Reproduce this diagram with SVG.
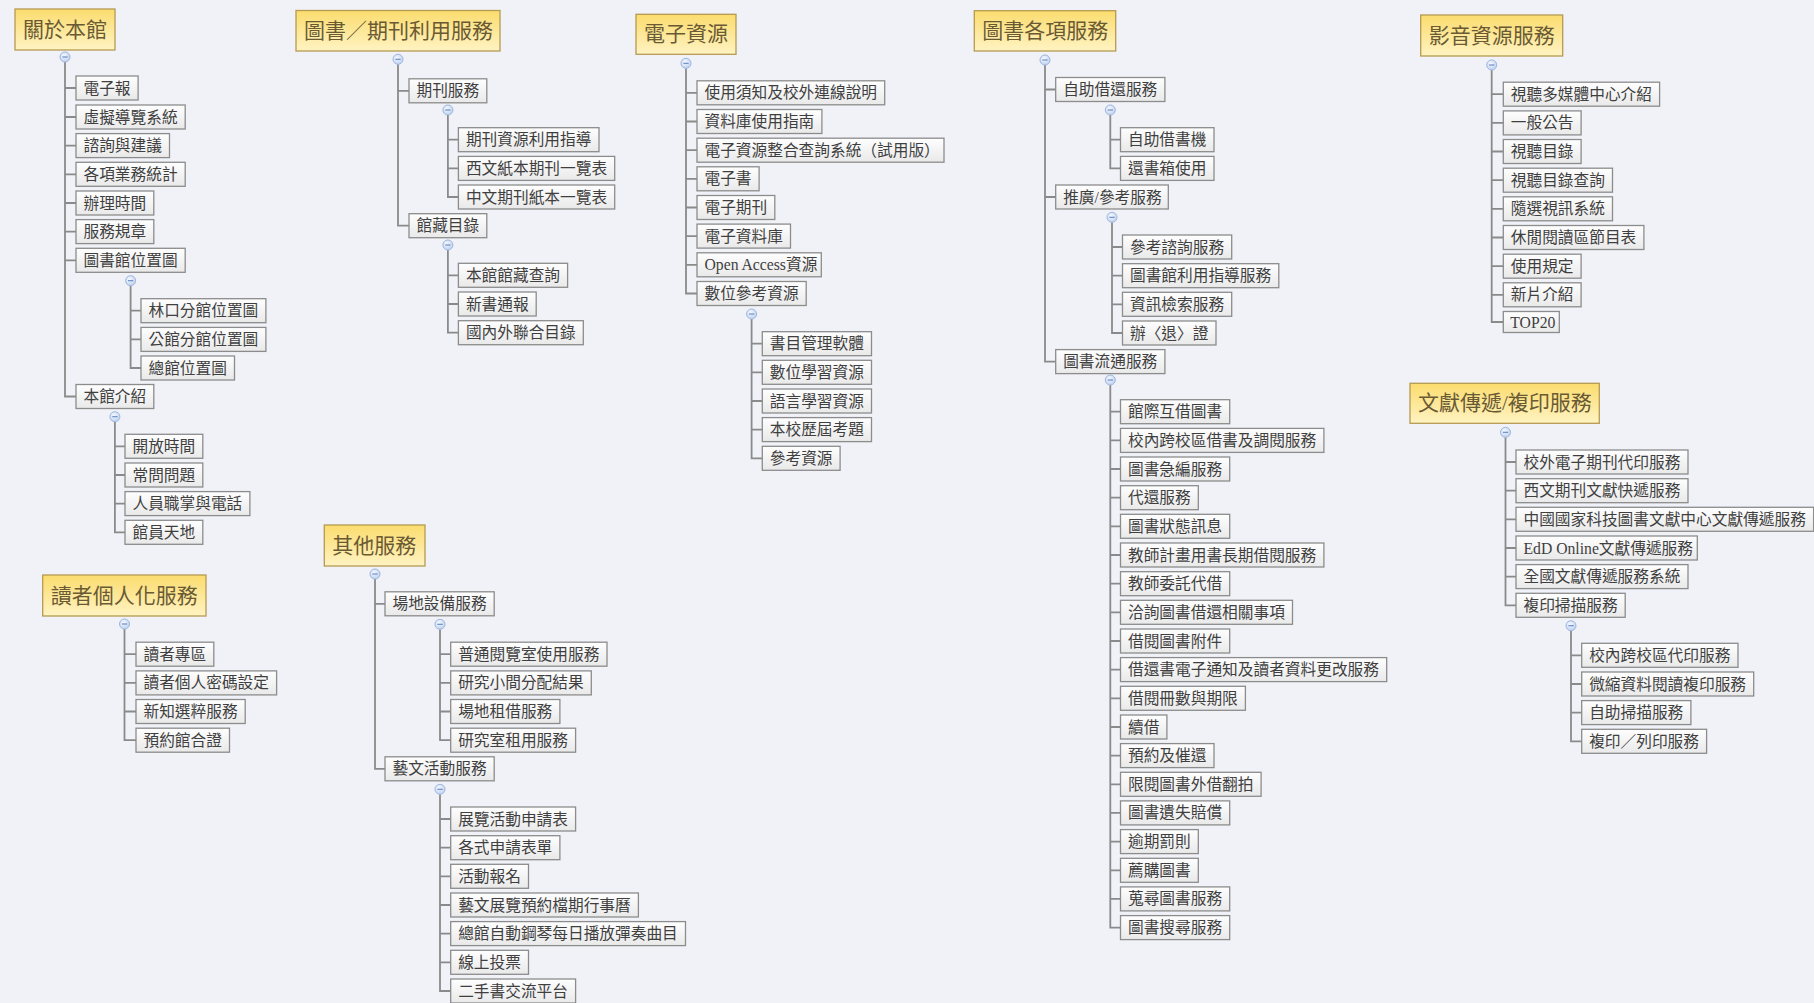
<svg xmlns="http://www.w3.org/2000/svg" width="1814" height="1003" viewBox="0 0 1814 1003">
<defs>
<linearGradient id="gRoot" x1="0" y1="0" x2="0" y2="1"><stop offset="0" stop-color="#fbdc6e"/><stop offset="1" stop-color="#fff3c2"/></linearGradient>
<linearGradient id="gBox" x1="0" y1="0" x2="0" y2="1"><stop offset="0" stop-color="#fefefe"/><stop offset="1" stop-color="#e9e9ea"/></linearGradient>
<radialGradient id="gTog" cx="0.4" cy="0.35" r="0.7"><stop offset="0" stop-color="#f4f8ff"/><stop offset="1" stop-color="#bcd0ef"/></radialGradient>
<g id="tog"><circle r="5" fill="url(#gTog)" stroke="#9db6de" stroke-width="1"/><line x1="-2.6" y1="0" x2="2.6" y2="0" stroke="#6685bd" stroke-width="1.1"/></g>
</defs>
<style>
.r{fill:url(#gRoot);stroke:#b59a52;stroke-width:1.3}
.b{fill:url(#gBox);stroke:#8c8c8c;stroke-width:1.3}
.rt{font-family:"Liberation Serif","Noto Sans CJK TC",serif;font-size:21px;fill:#6a5a34;dominant-baseline:central}
.t{font-family:"Liberation Serif","Noto Sans CJK TC",serif;font-size:15.7px;fill:#3f3f3f;dominant-baseline:central}
.c{fill:none;stroke:#8a8a8a;stroke-width:1.8}
</style>
<rect x="0" y="0" width="1814" height="1003" fill="#f0f2f7"/>

<g id="connectors" class="c">
<path d="M65,62V396.5H76M65,88H76M65,117H76M65,145.6H76M65,174.3H76M65,203H76M65,231.6H76M65,260.3H76"/>
<path d="M130.6,285.7V368H141M130.6,310.7H141M130.6,339.4H141"/>
<path d="M114.9,421.7V532.3H125M114.9,446.3H125M114.9,475H125M114.9,503.6H125"/>
<path d="M398,64.3V225.7H409M398,90.8H409"/>
<path d="M447.9,115V197H458.4M447.9,139.7H458.4M447.9,168.4H458.4"/>
<path d="M447.9,250V332.7H458.4M447.9,275.3H458.4M447.9,304H458.4"/>
<path d="M686,68.3V293.5H697M686,92.8H697M686,121.5H697M686,150.2H697M686,178.8H697M686,207.5H697M686,236.1H697M686,264.8H697"/>
<path d="M751.6,319V458.3H762.3M751.6,343.7H762.3M751.6,372.3H762.3M751.6,401H762.3M751.6,429.6H762.3"/>
<path d="M1045,65V361.6H1055.7M1045,89.5H1055.7M1045,197H1055.7"/>
<path d="M1110.3,115V168.4H1120.5M1110.3,139.7H1120.5"/>
<path d="M1112,222.3V333H1122.5M1112,247H1122.5M1112,275.7H1122.5M1112,304.3H1122.5"/>
<path d="M1110.3,385V927.6H1120.5M1110.3,411.7H1120.5M1110.3,440.4H1120.5M1110.3,469H1120.5M1110.3,497.7H1120.5M1110.3,526.3H1120.5M1110.3,555H1120.5M1110.3,583.7H1120.5M1110.3,612.3H1120.5M1110.3,641H1120.5M1110.3,669.6H1120.5M1110.3,698.3H1120.5M1110.3,727H1120.5M1110.3,755.6H1120.5M1110.3,784.3H1120.5M1110.3,812.9H1120.5M1110.3,841.6H1120.5M1110.3,870.3H1120.5M1110.3,898.9H1120.5"/>
<path d="M1491.7,70V322H1503.3M1491.7,94.2H1503.3M1491.7,122.9H1503.3M1491.7,151.5H1503.3M1491.7,180.2H1503.3M1491.7,208.8H1503.3M1491.7,237.5H1503.3M1491.7,266.2H1503.3M1491.7,294.8H1503.3"/>
<path d="M1505.5,437.3V605.3H1516M1505.5,462H1516M1505.5,490.7H1516M1505.5,519.3H1516M1505.5,548H1516M1505.5,576.6H1516"/>
<path d="M1571,630.7V741.3H1581.7M1571,655.3H1581.7M1571,684H1581.7M1571,712.6H1581.7"/>
<path d="M124.5,629V740.2H136M124.5,654.2H136M124.5,682.9H136M124.5,711.5H136"/>
<path d="M375,579V768.8H385M375,603.8H385"/>
<path d="M440,629.3V740.2H450.7M440,654.2H450.7M440,682.9H450.7M440,711.5H450.7"/>
<path d="M440,794.3V991H450.7M440,819H450.7M440,847.7H450.7M440,876.3H450.7M440,905H450.7M440,933.6H450.7M440,962.3H450.7"/>
</g>

<g id="toggles">
<use href="#tog" x="65" y="57"/><use href="#tog" x="130.6" y="280.7"/><use href="#tog" x="114.9" y="416.7"/>
<use href="#tog" x="398" y="59.3"/><use href="#tog" x="447.9" y="110"/><use href="#tog" x="447.9" y="245"/>
<use href="#tog" x="686" y="63.3"/><use href="#tog" x="751.6" y="314"/>
<use href="#tog" x="1045" y="60"/><use href="#tog" x="1110.3" y="110"/><use href="#tog" x="1112" y="217.3"/><use href="#tog" x="1110.3" y="380"/>
<use href="#tog" x="1491.7" y="65"/>
<use href="#tog" x="1505.5" y="432.3"/><use href="#tog" x="1571" y="625.7"/>
<use href="#tog" x="124.5" y="624"/>
<use href="#tog" x="375" y="574"/><use href="#tog" x="440" y="624.3"/><use href="#tog" x="440" y="789.3"/>
</g>

<!-- Tree 1 -->
<g id="root-about"><rect class="r" x="15" y="9" width="100" height="41"/><text class="rt" x="23" y="29.5">關於本館</text></g>
<g id="n-enews"><rect class="b" x="76" y="76" width="62.1" height="24"/><text class="t" x="83.5" y="88">電子報</text></g>
<g id="n-virtual"><rect class="b" x="76" y="105" width="109.2" height="24"/><text class="t" x="83.5" y="117">虛擬導覽系統</text></g>
<g id="n-consult"><rect class="b" x="76" y="133.6" width="93.5" height="24"/><text class="t" x="83.5" y="145.6">諮詢與建議</text></g>
<g id="n-stats"><rect class="b" x="76" y="162.3" width="109.2" height="24"/><text class="t" x="83.5" y="174.3">各項業務統計</text></g>
<g id="n-hours"><rect class="b" x="76" y="191" width="77.8" height="24"/><text class="t" x="83.5" y="203">辦理時間</text></g>
<g id="n-rules"><rect class="b" x="76" y="219.6" width="77.8" height="24"/><text class="t" x="83.5" y="231.6">服務規章</text></g>
<g id="n-location"><rect class="b" x="76" y="248.3" width="109.2" height="24"/><text class="t" x="83.5" y="260.3">圖書館位置圖</text></g>
<g id="n-linkou"><rect class="b" x="141" y="298.7" width="124.9" height="24"/><text class="t" x="148.5" y="310.7">林口分館位置圖</text></g>
<g id="n-gongguan"><rect class="b" x="141" y="327.4" width="124.9" height="24"/><text class="t" x="148.5" y="339.4">公館分館位置圖</text></g>
<g id="n-main"><rect class="b" x="141" y="356" width="93.5" height="24"/><text class="t" x="148.5" y="368">總館位置圖</text></g>
<g id="n-intro"><rect class="b" x="76" y="384.5" width="77.8" height="24"/><text class="t" x="83.5" y="396.5">本館介紹</text></g>
<g id="n-open"><rect class="b" x="125" y="434.3" width="77.8" height="24"/><text class="t" x="132.5" y="446.3">開放時間</text></g>
<g id="n-faq"><rect class="b" x="125" y="463" width="77.8" height="24"/><text class="t" x="132.5" y="475">常問問題</text></g>
<g id="n-staff"><rect class="b" x="125" y="491.6" width="124.9" height="24"/><text class="t" x="132.5" y="503.6">人員職掌與電話</text></g>
<g id="n-staffworld"><rect class="b" x="125" y="520.3" width="77.8" height="24"/><text class="t" x="132.5" y="532.3">館員天地</text></g>

<!-- Tree 2 -->
<g id="root-books"><rect class="r" x="296" y="10.5" width="204" height="40.5"/><text class="rt" x="304" y="30.75">圖書／期刊利用服務</text></g>
<g id="n-periodical"><rect class="b" x="409" y="78.8" width="77.8" height="24"/><text class="t" x="416.5" y="90.8">期刊服務</text></g>
<g id="n-per1"><rect class="b" x="458.4" y="127.7" width="140.6" height="24"/><text class="t" x="465.9" y="139.7">期刊資源利用指導</text></g>
<g id="n-per2"><rect class="b" x="458.4" y="156.4" width="156.3" height="24"/><text class="t" x="465.9" y="168.4">西文紙本期刊一覽表</text></g>
<g id="n-per3"><rect class="b" x="458.4" y="185" width="156.3" height="24"/><text class="t" x="465.9" y="197">中文期刊紙本一覽表</text></g>
<g id="n-catalog"><rect class="b" x="409" y="213.7" width="77.8" height="24"/><text class="t" x="416.5" y="225.7">館藏目錄</text></g>
<g id="n-cat1"><rect class="b" x="458.4" y="263.3" width="109.2" height="24"/><text class="t" x="465.9" y="275.3">本館館藏查詢</text></g>
<g id="n-cat2"><rect class="b" x="458.4" y="292" width="77.8" height="24"/><text class="t" x="465.9" y="304">新書通報</text></g>
<g id="n-cat3"><rect class="b" x="458.4" y="320.7" width="124.9" height="24"/><text class="t" x="465.9" y="332.7">國內外聯合目錄</text></g>

<!-- Tree 3 -->
<g id="root-eres"><rect class="r" x="636" y="14.3" width="100" height="40"/><text class="rt" x="644" y="34.3">電子資源</text></g>
<g id="n-e1"><rect class="b" x="697" y="80.8" width="187.7" height="24"/><text class="t" x="704.5" y="92.8">使用須知及校外連線說明</text></g>
<g id="n-e2"><rect class="b" x="697" y="109.5" width="124.9" height="24"/><text class="t" x="704.5" y="121.5">資料庫使用指南</text></g>
<g id="n-e3"><rect class="b" x="697" y="138.2" width="247" height="24"/><text class="t" x="704.5" y="150.2">電子資源整合查詢系統（試用版）</text></g>
<g id="n-e4"><rect class="b" x="697" y="166.8" width="62.1" height="24"/><text class="t" x="704.5" y="178.8">電子書</text></g>
<g id="n-e5"><rect class="b" x="697" y="195.5" width="77.8" height="24"/><text class="t" x="704.5" y="207.5">電子期刊</text></g>
<g id="n-e6"><rect class="b" x="697" y="224.1" width="93.5" height="24"/><text class="t" x="704.5" y="236.1">電子資料庫</text></g>
<g id="n-e7"><rect class="b" x="697" y="252.8" width="124.3" height="24"/><text class="t" x="704.5" y="264.8">Open Access資源</text></g>
<g id="n-e8"><rect class="b" x="697" y="281.5" width="109.2" height="24"/><text class="t" x="704.5" y="293.5">數位參考資源</text></g>
<g id="n-e81"><rect class="b" x="762.3" y="331.7" width="109.2" height="24"/><text class="t" x="769.8" y="343.7">書目管理軟體</text></g>
<g id="n-e82"><rect class="b" x="762.3" y="360.3" width="109.2" height="24"/><text class="t" x="769.8" y="372.3">數位學習資源</text></g>
<g id="n-e83"><rect class="b" x="762.3" y="389" width="109.2" height="24"/><text class="t" x="769.8" y="401">語言學習資源</text></g>
<g id="n-e84"><rect class="b" x="762.3" y="417.6" width="109.2" height="24"/><text class="t" x="769.8" y="429.6">本校歷屆考題</text></g>
<g id="n-e85"><rect class="b" x="762.3" y="446.3" width="77.8" height="24"/><text class="t" x="769.8" y="458.3">參考資源</text></g>

<!-- Tree 4 -->
<g id="root-services"><rect class="r" x="974.3" y="10.7" width="141.4" height="40.3"/><text class="rt" x="982.3" y="30.85">圖書各項服務</text></g>
<g id="n-self"><rect class="b" x="1055.7" y="77.5" width="109.2" height="24"/><text class="t" x="1063.2" y="89.5">自助借還服務</text></g>
<g id="n-self1"><rect class="b" x="1120.5" y="127.7" width="93.5" height="24"/><text class="t" x="1128" y="139.7">自助借書機</text></g>
<g id="n-self2"><rect class="b" x="1120.5" y="156.4" width="93.5" height="24"/><text class="t" x="1128" y="168.4">還書箱使用</text></g>
<g id="n-ref"><rect class="b" x="1055.7" y="185" width="112.6" height="24"/><text class="t" x="1063.2" y="197">推廣/參考服務</text></g>
<g id="n-ref1"><rect class="b" x="1122.5" y="235" width="109.2" height="24"/><text class="t" x="1130" y="247">參考諮詢服務</text></g>
<g id="n-ref2"><rect class="b" x="1122.5" y="263.7" width="156.3" height="24"/><text class="t" x="1130" y="275.7">圖書館利用指導服務</text></g>
<g id="n-ref3"><rect class="b" x="1122.5" y="292.3" width="109.2" height="24"/><text class="t" x="1130" y="304.3">資訊檢索服務</text></g>
<g id="n-ref4"><rect class="b" x="1122.5" y="321" width="93.5" height="24"/><text class="t" x="1130" y="333">辦〈退〉證</text></g>
<g id="n-circ"><rect class="b" x="1055.7" y="349.6" width="109.2" height="24"/><text class="t" x="1063.2" y="361.6">圖書流通服務</text></g>
<g id="n-c01"><rect class="b" x="1120.5" y="399.7" width="109.2" height="24"/><text class="t" x="1128" y="411.7">館際互借圖書</text></g>
<g id="n-c02"><rect class="b" x="1120.5" y="428.4" width="203.4" height="24"/><text class="t" x="1128" y="440.4">校內跨校區借書及調閱服務</text></g>
<g id="n-c03"><rect class="b" x="1120.5" y="457" width="109.2" height="24"/><text class="t" x="1128" y="469">圖書急編服務</text></g>
<g id="n-c04"><rect class="b" x="1120.5" y="485.7" width="77.8" height="24"/><text class="t" x="1128" y="497.7">代還服務</text></g>
<g id="n-c05"><rect class="b" x="1120.5" y="514.3" width="109.2" height="24"/><text class="t" x="1128" y="526.3">圖書狀態訊息</text></g>
<g id="n-c06"><rect class="b" x="1120.5" y="543" width="203.4" height="24"/><text class="t" x="1128" y="555">教師計畫用書長期借閱服務</text></g>
<g id="n-c07"><rect class="b" x="1120.5" y="571.7" width="109.2" height="24"/><text class="t" x="1128" y="583.7">教師委託代借</text></g>
<g id="n-c08"><rect class="b" x="1120.5" y="600.3" width="172" height="24"/><text class="t" x="1128" y="612.3">洽詢圖書借還相關事項</text></g>
<g id="n-c09"><rect class="b" x="1120.5" y="629" width="109.2" height="24"/><text class="t" x="1128" y="641">借閱圖書附件</text></g>
<g id="n-c10"><rect class="b" x="1120.5" y="657.6" width="266.2" height="24"/><text class="t" x="1128" y="669.6">借還書電子通知及讀者資料更改服務</text></g>
<g id="n-c11"><rect class="b" x="1120.5" y="686.3" width="124.9" height="24"/><text class="t" x="1128" y="698.3">借閱冊數與期限</text></g>
<g id="n-c12"><rect class="b" x="1120.5" y="715" width="46.4" height="24"/><text class="t" x="1128" y="727">續借</text></g>
<g id="n-c13"><rect class="b" x="1120.5" y="743.6" width="93.5" height="24"/><text class="t" x="1128" y="755.6">預約及催還</text></g>
<g id="n-c14"><rect class="b" x="1120.5" y="772.3" width="140.6" height="24"/><text class="t" x="1128" y="784.3">限閱圖書外借翻拍</text></g>
<g id="n-c15"><rect class="b" x="1120.5" y="800.9" width="109.2" height="24"/><text class="t" x="1128" y="812.9">圖書遺失賠償</text></g>
<g id="n-c16"><rect class="b" x="1120.5" y="829.6" width="77.8" height="24"/><text class="t" x="1128" y="841.6">逾期罰則</text></g>
<g id="n-c17"><rect class="b" x="1120.5" y="858.3" width="77.8" height="24"/><text class="t" x="1128" y="870.3">薦購圖書</text></g>
<g id="n-c18"><rect class="b" x="1120.5" y="886.9" width="109.2" height="24"/><text class="t" x="1128" y="898.9">蒐尋圖書服務</text></g>
<g id="n-c19"><rect class="b" x="1120.5" y="915.6" width="109.2" height="24"/><text class="t" x="1128" y="927.6">圖書搜尋服務</text></g>

<!-- Tree 5 -->
<g id="root-av"><rect class="r" x="1420.7" y="15" width="142" height="41"/><text class="rt" x="1428.7" y="35.5">影音資源服務</text></g>
<g id="n-av1"><rect class="b" x="1503.3" y="82.2" width="156.3" height="24"/><text class="t" x="1510.8" y="94.2">視聽多媒體中心介紹</text></g>
<g id="n-av2"><rect class="b" x="1503.3" y="110.9" width="77.8" height="24"/><text class="t" x="1510.8" y="122.9">一般公告</text></g>
<g id="n-av3"><rect class="b" x="1503.3" y="139.5" width="77.8" height="24"/><text class="t" x="1510.8" y="151.5">視聽目錄</text></g>
<g id="n-av4"><rect class="b" x="1503.3" y="168.2" width="109.2" height="24"/><text class="t" x="1510.8" y="180.2">視聽目錄查詢</text></g>
<g id="n-av5"><rect class="b" x="1503.3" y="196.8" width="109.2" height="24"/><text class="t" x="1510.8" y="208.8">隨選視訊系統</text></g>
<g id="n-av6"><rect class="b" x="1503.3" y="225.5" width="140.6" height="24"/><text class="t" x="1510.8" y="237.5">休閒閱讀區節目表</text></g>
<g id="n-av7"><rect class="b" x="1503.3" y="254.2" width="77.8" height="24"/><text class="t" x="1510.8" y="266.2">使用規定</text></g>
<g id="n-av8"><rect class="b" x="1503.3" y="282.8" width="77.8" height="24"/><text class="t" x="1510.8" y="294.8">新片介紹</text></g>
<g id="n-av9"><rect class="b" x="1503.3" y="311.5" width="56" height="21"/><text class="t" x="1510.3" y="322">TOP20</text></g>

<!-- Tree 6 -->
<g id="root-docdel"><rect class="r" x="1410" y="383.3" width="189.3" height="40"/><text class="rt" x="1418" y="403.3">文獻傳遞/複印服務</text></g>
<g id="n-d1"><rect class="b" x="1516" y="450" width="172" height="24"/><text class="t" x="1523.5" y="462">校外電子期刊代印服務</text></g>
<g id="n-d2"><rect class="b" x="1516" y="478.7" width="172" height="24"/><text class="t" x="1523.5" y="490.7">西文期刊文獻快遞服務</text></g>
<g id="n-d3"><rect class="b" x="1516" y="507.3" width="297.6" height="24"/><text class="t" x="1523.5" y="519.3">中國國家科技圖書文獻中心文獻傳遞服務</text></g>
<g id="n-d4"><rect class="b" x="1516" y="536" width="181.3" height="24"/><text class="t" x="1523.5" y="548">EdD Online文獻傳遞服務</text></g>
<g id="n-d5"><rect class="b" x="1516" y="564.6" width="172" height="24"/><text class="t" x="1523.5" y="576.6">全國文獻傳遞服務系統</text></g>
<g id="n-d6"><rect class="b" x="1516" y="593.3" width="109.2" height="24"/><text class="t" x="1523.5" y="605.3">複印掃描服務</text></g>
<g id="n-d61"><rect class="b" x="1581.7" y="643.3" width="156.3" height="24"/><text class="t" x="1589.2" y="655.3">校內跨校區代印服務</text></g>
<g id="n-d62"><rect class="b" x="1581.7" y="672" width="172" height="24"/><text class="t" x="1589.2" y="684">微縮資料閱讀複印服務</text></g>
<g id="n-d63"><rect class="b" x="1581.7" y="700.6" width="109.2" height="24"/><text class="t" x="1589.2" y="712.6">自助掃描服務</text></g>
<g id="n-d64"><rect class="b" x="1581.7" y="729.3" width="124.9" height="24"/><text class="t" x="1589.2" y="741.3">複印／列印服務</text></g>

<!-- Tree 7 -->
<g id="root-personal"><rect class="r" x="42.7" y="575" width="163.3" height="41"/><text class="rt" x="50.7" y="595.5">讀者個人化服務</text></g>
<g id="n-p1"><rect class="b" x="136" y="642.2" width="77.8" height="24"/><text class="t" x="143.5" y="654.2">讀者專區</text></g>
<g id="n-p2"><rect class="b" x="136" y="670.9" width="140.6" height="24"/><text class="t" x="143.5" y="682.9">讀者個人密碼設定</text></g>
<g id="n-p3"><rect class="b" x="136" y="699.5" width="109.2" height="24"/><text class="t" x="143.5" y="711.5">新知選粹服務</text></g>
<g id="n-p4"><rect class="b" x="136" y="728.2" width="93.5" height="24"/><text class="t" x="143.5" y="740.2">預約館合證</text></g>

<!-- Tree 8 -->
<g id="root-other"><rect class="r" x="324.3" y="525" width="100.7" height="41"/><text class="rt" x="332.3" y="545.5">其他服務</text></g>
<g id="n-venue"><rect class="b" x="385" y="591.8" width="109.2" height="24"/><text class="t" x="392.5" y="603.8">場地設備服務</text></g>
<g id="n-v1"><rect class="b" x="450.7" y="642.2" width="156.3" height="24"/><text class="t" x="458.2" y="654.2">普通閱覽室使用服務</text></g>
<g id="n-v2"><rect class="b" x="450.7" y="670.9" width="140.6" height="24"/><text class="t" x="458.2" y="682.9">研究小間分配結果</text></g>
<g id="n-v3"><rect class="b" x="450.7" y="699.5" width="109.2" height="24"/><text class="t" x="458.2" y="711.5">場地租借服務</text></g>
<g id="n-v4"><rect class="b" x="450.7" y="728.2" width="124.9" height="24"/><text class="t" x="458.2" y="740.2">研究室租用服務</text></g>
<g id="n-arts"><rect class="b" x="385" y="756.8" width="109.2" height="24"/><text class="t" x="392.5" y="768.8">藝文活動服務</text></g>
<g id="n-a1"><rect class="b" x="450.7" y="807" width="124.9" height="24"/><text class="t" x="458.2" y="819">展覽活動申請表</text></g>
<g id="n-a2"><rect class="b" x="450.7" y="835.7" width="109.2" height="24"/><text class="t" x="458.2" y="847.7">各式申請表單</text></g>
<g id="n-a3"><rect class="b" x="450.7" y="864.3" width="77.8" height="24"/><text class="t" x="458.2" y="876.3">活動報名</text></g>
<g id="n-a4"><rect class="b" x="450.7" y="893" width="187.7" height="24"/><text class="t" x="458.2" y="905">藝文展覽預約檔期行事曆</text></g>
<g id="n-a5"><rect class="b" x="450.7" y="921.6" width="234.8" height="24"/><text class="t" x="458.2" y="933.6">總館自動鋼琴每日播放彈奏曲目</text></g>
<g id="n-a6"><rect class="b" x="450.7" y="950.3" width="77.8" height="24"/><text class="t" x="458.2" y="962.3">線上投票</text></g>
<g id="n-a7"><rect class="b" x="450.7" y="979" width="124.9" height="24"/><text class="t" x="458.2" y="991">二手書交流平台</text></g>
</svg>
